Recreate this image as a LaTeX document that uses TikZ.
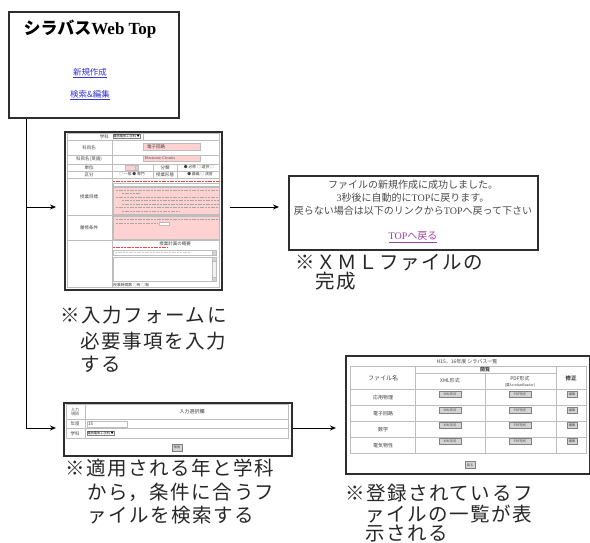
\documentclass[tikz,border=0pt]{standalone}
\usepackage{fontspec}
\setmainfont{Liberation Serif}
\newfontfamily\jp{Noto Sans CJK JP}
\newfontfamily\jpc[LetterSpace=8]{Noto Sans CJK JP}
\usetikzlibrary{arrows.meta}
\newcommand\myfs[1]{\fontsize{#1}{#1}\selectfont}
\newcommand\lat[1]{{\rmfamily #1}}
\definecolor{pinkf}{HTML}{FFD2D2}
\definecolor{linkb}{HTML}{3636D0}
\definecolor{linkp}{HTML}{A040A0}
\definecolor{framec}{HTML}{2E2E2E}
\definecolor{gridc}{HTML}{BDBDBD}
\definecolor{btnc}{HTML}{D4D4D4}
\definecolor{msgc}{HTML}{4A4A4A}
\tikzset{
  screen/.style={draw=framec, line width=1.6pt, fill=white, rectangle, inner sep=0pt, anchor=north west},
  cell/.style={draw=gridc, line width=0.5pt},
  lbl/.style={font=\jpc\myfs{19.5}, anchor=west, inner sep=0pt, text=black!85},
  tiny/.style={font=\jp\myfs{4.5}, inner sep=0pt, text=black!75},
  msgtext/.style={font=\jp\myfs{10}, inner sep=0pt, text=msgc},
  arr/.style={-{Stealth[length=6pt,width=5pt]}, line width=1pt},
  btn/.style={draw=gray, line width=0.4pt, fill=btnc, inner sep=0pt, rectangle, font=\jp\myfs{3.2}, text=black!70},
  pinkbox/.style={fill=pinkf, draw=gridc, line width=0.4pt},
  txtbar/.style={draw=black!35, line width=0.7pt, dash pattern=on 2pt off 0.7pt},
  redbar/.style={draw=red!75, line width=0.7pt, dash pattern=on 2pt off 0.7pt},
}
\begin{document}
\begin{tikzpicture}[x=1pt,y=-1pt]
\useasboundingbox[fill=white] (0,0) rectangle (590,543);

% ---------- top page ----------
\node[screen, minimum width=170pt, minimum height=106pt] (top) at (8,11) {};
\node[font=\myfs{17}\bfseries, inner sep=0pt] (title) at (90,29) {{\jp シラバス}Web Top};
\node[font=\jp\myfs{8.5}, text=linkb, inner sep=0pt] (lnew) at (90,73) {\underline{新規作成}};
\node[font=\jp\myfs{8.5}, text=linkb, inner sep=0pt] (ledit) at (90,95) {\underline{検索\&編集}};

% ---------- input form ----------
\node[screen, minimum width=157pt, minimum height=158pt] (form) at (64,131) {};
\draw[cell] (67,133) rectangle (219,287);
\draw[cell] (112,140) -- (112,287);
\foreach \yy in {140,155,164,171,178,215,240} \draw[cell] (67,\yy) -- (219,\yy);
\draw[cell] (143,133) -- (143,140);
\draw[cell] (153,164) -- (153,178);
\draw[cell] (177,164) -- (177,178);
\node[tiny, anchor=east] (f1l) at (109,136.5) {学科};
\node[draw=gray, line width=0.3pt, fill=white, inner sep=0.4pt, anchor=west, font=\jp\myfs{3.2}] (f1s) at (113,136.5) {電気電気工学科 ▼};
\node[tiny] (f2l) at (89,147.5) {科目名};
\draw[pinkbox] (143,143.5) rectangle (200,150);
\node[tiny] (f2v) at (156,146.8) {電子回路};
\node[tiny] (f3l) at (89,159.5) {科目名(英語)};
\draw[pinkbox] (143,155.5) rectangle (200,161.5);
\node[tiny, font=\myfs{4}] (f3v) at (160,158.5) {Electronic Circuits};
\node[tiny] (f4l) at (89,167.5) {単位};
\draw[pinkbox] (125,165.3) rectangle (135,170);
\draw[cell, fill=btnc] (135,165.3) rectangle (138,170);
\node[tiny] (f4c) at (165,167.5) {分類};
\node[tiny, font=\jp\myfs{3.8}] (f4r) at (199,167.5) {● 必修 ○ 選択 ○};
\node[tiny] (f5l) at (89,174.5) {区分};
\node[tiny, font=\jp\myfs{3.8}] (f5r) at (132,174.5) {○ 一般 ● 専門};
\node[tiny] (f5c) at (165,174.5) {授業形態};
\node[tiny, font=\jp\myfs{3.8}] (f5s) at (200,174.5) {● 講義 ○ 演習};
\node[tiny] (f6l) at (89,196.5) {授業目標};
\draw[redbar] (113,181) -- (219,181);
\draw[cell, fill=white] (113,183) rectangle (219,186.5);
\draw[pinkbox] (113,187) rectangle (219,214.5);
\draw[txtbar] (116,190) -- (219,190);
\draw[txtbar] (122,193.5) -- (140,193.5);
\draw[txtbar] (116,197) -- (219,197);
\draw[txtbar] (122,200.5) -- (219,200.5);
\draw[txtbar] (122,204) -- (219,204);
\draw[txtbar] (116,207.5) -- (219,207.5);
\draw[txtbar] (122,211) -- (180,211);
\node[tiny] (f7l) at (89,227.5) {履修条件};
\draw[pinkbox] (113,216) rectangle (219,239.5);
\draw[txtbar] (116,219.5) -- (219,219.5);
\draw[txtbar] (116,223.5) -- (158,223.5);
\draw[cell, fill=white] (159,221.8) rectangle (169,225.2);
\node[tiny] (f8t) at (175,243.3) {授業計画の概要};
\draw[redbar] (113,247.5) -- (168,247.5);
\draw[cell, fill=white] (113,250) rectangle (216,255);
\draw[txtbar, draw=black!20] (115,252.5) -- (190,252.5);
\draw[cell, fill=btnc] (212,250) rectangle (216,255);
\draw[cell, fill=white] (113,257) rectangle (216,281);
\draw[cell, fill=black!5] (212,257) rectangle (216,281);
\draw[cell, fill=btnc] (212,257) rectangle (216,261);
\draw[cell, fill=btnc] (212,277) rectangle (216,281);
\node[tiny, anchor=west, font=\jp\myfs{3.8}] (f8b) at (113,285) {授業時間数 ○有 ○無};

% ---------- XML result ----------
\node[screen, minimum width=249pt, minimum height=74pt] (xml) at (288,175) {};
\node[msgtext] (m1) at (413,185) {ファイルの新規作成に成功しました。};
\node[msgtext] (m2) at (413,198) {\lat{3}秒後に自動的に\lat{TOP}に戻ります。};
\node[msgtext] (m3) at (413,211) {戻らない場合は以下のリンクから\lat{TOP}へ戻って下さい};
\node[msgtext, text=linkp] (m4) at (413,237) {\underline{\lat{TOP}へ戻る}};

% ---------- search form ----------
\node[screen, minimum width=228pt, minimum height=53pt] (search) at (63,402) {};
\draw[cell] (66,404) rectangle (288,438);
\draw[cell] (85,404) -- (85,438);
\draw[cell] (66,419) -- (288,419);
\draw[cell] (66,428.5) -- (288,428.5);
\node[tiny, align=center, font=\jp\myfs{4}] (s1l) at (75,411.5) {入力\\項目};
\node[tiny, font=\jp\myfs{5}] (s1h) at (192,411.5) {入力選択欄};
\node[tiny] (s2l) at (75,423.8) {年度};
\draw[cell, fill=white] (87,421) rectangle (127,426.8);
\node[tiny, anchor=west] (s2v) at (88,423.9) {15};
\node[tiny] (s3l) at (75,433.3) {学科};
\node[draw=gray, line width=0.3pt, fill=white, inner sep=0.4pt, anchor=west, font=\jp\myfs{3.2}] (s3s) at (87,433.3) {電気電気工学科 ▼};
\node[btn, minimum width=10pt, minimum height=6.5pt] (sbtn) at (177,447.5) {検索};

% ---------- list ----------
\node[screen, minimum width=244pt, minimum height=118pt] (table) at (345,355) {};
\node[tiny, font=\jp\myfs{5}] (ttl) at (467,361.5) {H15，16年度 シラバス一覧};
\draw[cell] (350,366) rectangle (586,453);
\draw[cell] (415,366) -- (415,453);
\draw[cell] (556,366) -- (556,453);
\draw[cell] (485,373) -- (485,453);
\draw[cell] (415,373) -- (556,373);
\foreach \yy in {389,405.5,421.5,437.5} \draw[cell] (350,\yy) -- (586,\yy);
\node[tiny, font=\jp\myfs{6}] (h1) at (383,378) {ファイル名};
\node[tiny, font=\jp\bfseries\myfs{5}] (h2) at (485,369.5) {閲覧};
\node[tiny, font=\jp\myfs{5}] (h3) at (450,381) {XML形式};
\node[tiny, font=\jp\myfs{5}] (h4) at (520,379) {PDF形式};
\node[tiny, font=\jp\myfs{3.5}] (h5) at (520,385) {(要AcrobatReader)};
\node[tiny, font=\jp\bfseries\myfs{5.5}] (h6) at (571,378) {修正};
\node[tiny, font=\jp\myfs{5}] (r1) at (383,397.5) {応用物理};
\node[tiny, font=\jp\myfs{5}] (r2) at (383,413.5) {電子回路};
\node[tiny, font=\jp\myfs{5}] (r3) at (383,429.5) {数学};
\node[tiny, font=\jp\myfs{5}] (r4) at (383,445.5) {電気物性};
\foreach \yy/\nm in {394.5/a,410.5/b,425.5/c,441.5/d}{
  \node[btn, minimum width=22pt, minimum height=6pt] (x\nm) at (450,\yy) {XML形式};
  \node[btn, minimum width=22pt, minimum height=6pt] (p\nm) at (520,\yy) {PDF形式};
  \node[btn, minimum width=10pt, minimum height=6pt] (e\nm) at (572,\yy) {編集};
}
\node[btn, minimum width=10pt, minimum height=7pt] (back) at (470,465) {戻る};

% ---------- captions ----------
\node[lbl] (c1a) at (60,315) {※入力フォームに};
\node[lbl] (c1b) at (80,341) {必要事項を入力};
\node[lbl] (c1c) at (80,364) {する};
\node[lbl] (c2a) at (295,263) {※ＸＭＬファイルの};
\node[lbl] (c2b) at (315,281) {完成};
\node[lbl] (c3a) at (65,468) {※適用される年と学科};
\node[lbl] (c3b) at (87,492) {から，条件に合うフ};
\node[lbl] (c3c) at (87,515) {ァイルを検索する};
\node[lbl] (c4a) at (345,493) {※登録されているフ};
\node[lbl] (c4b) at (365,514) {ァイルの一覧が表};
\node[lbl] (c4c) at (365,533.5) {示される};

% ---------- connectors ----------
\coordinate (tx) at (26,0);
\coordinate (t0) at (top.south west -| tx);
\coordinate (t1) at (26,207);
\coordinate (t2) at (26,428);
\draw[line width=1pt] (t0) -- (t2);
\draw[arr, shorten >=8pt] (t1) -- (form.west |- t1);
\draw[arr, shorten >=7pt] (t2) -- (search.west |- t2);
\draw[arr, shorten <=7pt, shorten >=9pt] (form.east |- t1) -- (xml.west |- t1);
\draw[arr, shorten >=9pt] (search.east |- t2) -- (table.west |- t2);
\end{tikzpicture}
\end{document}
